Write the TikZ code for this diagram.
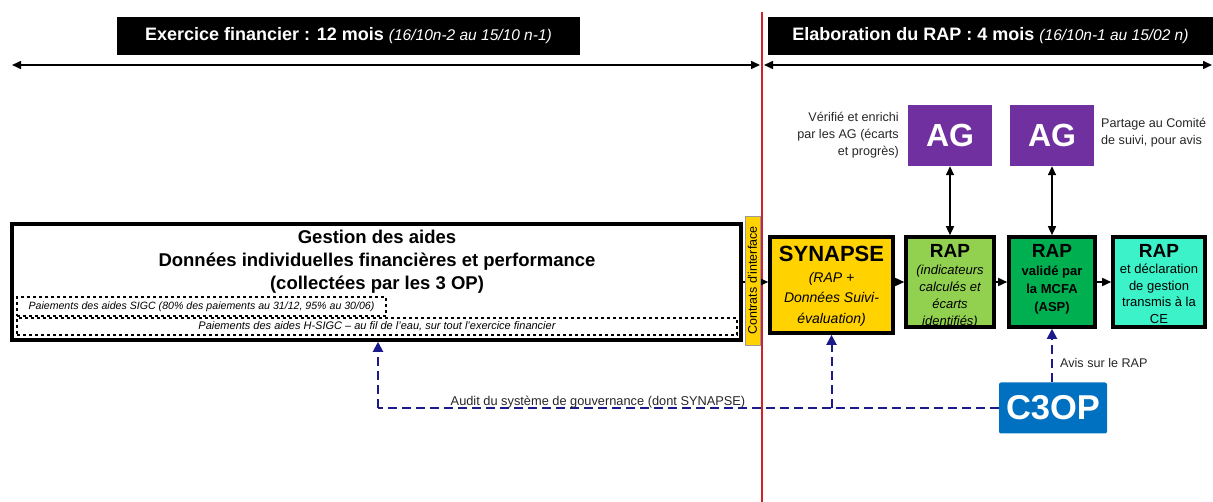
\documentclass[tikz,border=0pt]{standalone}
\usepackage{fontspec}
\setmainfont{Liberation Sans}
\usetikzlibrary{arrows.meta}
\definecolor{agpurple}{HTML}{7030A0}
\definecolor{cblue}{HTML}{0070C0}
\definecolor{lgreen}{HTML}{92D050}
\definecolor{dgreen}{HTML}{00B050}
\definecolor{aqua}{HTML}{3CF2C8}
\definecolor{syny}{HTML}{FFD200}
\definecolor{navyd}{HTML}{1A1A8C}
\definecolor{redl}{HTML}{D0202A}
\tikzset{
  titlebox/.style={fill=black, text=white, minimum height=38pt, inner sep=0pt, font=\fontsize{18}{20}\selectfont},
  flowbox/.style={draw=black, line width=3.6pt, inner sep=0pt},
  boxtext/.style={inner sep=0pt, align=center, anchor=north, font=\fontsize{13}{17.5}\selectfont},
  agbox/.style={fill=agpurple, text=white, minimum width=84pt, minimum height=61pt, inner sep=0pt, font=\fontsize{32}{34}\selectfont\bfseries},
  dashbox/.style={draw=black, dashed, line width=1.1pt, inner sep=0pt, font=\fontsize{10.6}{12}\selectfont\itshape},
  timearrow/.style={line width=1.5pt, {Triangle[length=9pt,width=8pt]}-{Triangle[length=9pt,width=8pt]}},
  flowarrow/.style={line width=1.5pt, -{Triangle[length=9pt,width=8pt]}},
  dblarrow/.style={line width=1.5pt, {Triangle[length=9pt,width=8pt]}-{Triangle[length=9pt,width=8pt]}},
  auditline/.style={navyd, line width=2pt, dash pattern=on 9pt off 5pt},
  auditarrow/.style={auditline, -{Triangle[length=10pt,width=10pt]}},
  smalltext/.style={inner sep=0pt, font=\fontsize{12.6}{17}\selectfont, text=black!85},
}
\begin{document}
\begin{tikzpicture}[x=1pt,y=-1pt]
\useasboundingbox (0,0) rectangle (1213,502);
% titles
\node[titlebox, minimum width=463pt] (t1) at (348.5,36) {\textbf{Exercice financier~: 12 mois} {\fontsize{15.5}{16}\selectfont\itshape (16/10n-2 au 15/10 n-1)}};
\node[titlebox, minimum width=445pt] (t2) at (990.5,36) {\textbf{Elaboration du RAP~: 4 mois} {\fontsize{15.5}{16}\selectfont\itshape (16/10n-1 au 15/02 n)}};
% red line
\coordinate (redtop) at (762,12);
\coordinate (redbot) at (762,502);
\draw[redl, line width=1.8pt] (redtop) -- (redbot);
% timeline
\coordinate (tl1) at (12,65);
\coordinate (tl2) at (760,65);
\coordinate (tr1) at (764,65);
\coordinate (tr2) at (1212,65);
\draw[timearrow] (tl1) -- (tl2);
\draw[timearrow] (tr1) -- (tr2);
% big box
\node[flowbox, minimum width=729pt, minimum height=116pt] (big) at (376.5,282) {};
\node[inner sep=0pt, align=center, anchor=north, font=\fontsize{18.5}{23}\selectfont\bfseries] (bigt) at (377,230) {Gestion des aides\\Données individuelles financières et performance\\(collectées par les 3 OP)};
\node[dashbox, minimum width=369pt, minimum height=19pt] (sigc) at (201.5,306.5) {Paiements des aides SIGC (80\% des paiements au 31/12, 95\% au 30/06)};
\node[dashbox, minimum width=720pt, minimum height=17pt, font=\fontsize{11}{12}\selectfont\itshape] (hsigc) at (377,326.5) {Paiements des aides H-SIGC – au fil de l’eau, sur tout l’exercice financier};
% SYNAPSE
\node[flowbox, fill=syny, minimum width=123pt, minimum height=96pt] (syn) at (831.5,285) {};
\node[boxtext, font=\fontsize{14}{20.5}\selectfont\itshape] (synt) at (831.5,246) {{\fontsize{22}{22}\selectfont\bfseries\upshape SYNAPSE}\\(RAP +\\Données Suivi-\\évaluation)};
% RAP boxes
\node[flowbox, fill=lgreen, minimum width=88pt, minimum height=90pt] (rap1) at (950,282) {};
\node[boxtext, font=\fontsize{13}{17}\selectfont\itshape] (rap1t) at (950,244) {{\fontsize{19}{21}\selectfont\bfseries\upshape RAP}\\(indicateurs\\calculés et\\écarts\\identifiés)};
\node[flowbox, fill=dgreen, minimum width=86pt, minimum height=90pt] (rap2) at (1052,282) {};
\node[boxtext, font=\fontsize{13}{18}\selectfont\bfseries] (rap2t) at (1052,244) {{\fontsize{19}{21}\selectfont RAP}\\validé par\\la MCFA\\(ASP)};
\node[flowbox, fill=aqua, minimum width=92pt, minimum height=90pt] (rap3) at (1159,282) {};
\node[boxtext, font=\fontsize{13}{16.5}\selectfont] (rap3t) at (1159,244) {{\fontsize{19}{21}\selectfont\bfseries RAP}\\et déclaration\\de gestion\\transmis à la\\CE};
% arrows between boxes
\draw[flowarrow] (big.east |- rap1.west) -- (syn.west |- rap1.west);
\draw[flowarrow] (syn.east |- rap1.west) -- (rap1.west);
\draw[flowarrow] (rap1.east) -- (rap2.west);
\draw[flowarrow] (rap2.east) -- (rap3.west);
% interface bar
\node[draw=black!40, line width=0.4pt, fill=syny, rotate=90, minimum width=129pt, minimum height=15pt, inner sep=0pt, font=\fontsize{12.5}{13}\selectfont] (bar) at (752.5,280.5) {Contrats d’interface};
% AG
\node[agbox] (ag1) at (950,135.5) {AG};
\node[agbox] (ag2) at (1052,135.5) {AG};
\draw[dblarrow] (ag1.south) -- (rap1.north);
\draw[dblarrow] (ag2.south) -- (rap2.north);
\node[smalltext, align=right, anchor=east] (agl) at (899,135) {Vérifié et enrichi\\par les AG (écarts\\et progrès)};
\node[smalltext, align=left, anchor=west] (agr) at (1101,133) {Partage au Comité\\de suivi, pour avis};
% C3OP
\node[fill=cblue, text=white, rounded corners=2pt, minimum width=108pt, minimum height=51pt, inner sep=0pt, font=\fontsize{34.5}{36}\selectfont\bfseries] (c3op) at (1053,408) {C3OP};
\draw[auditarrow] (c3op.north -| rap2.south) -- (rap2.south);
\node[smalltext, anchor=west] (avis) at (1060,363) {Avis sur le RAP};
\coordinate (auditL) at (378,408);
\coordinate (auditS) at (831.5,408);
\draw[auditline] (c3op.west) -- (auditL);
\draw[auditarrow] (auditL) -- (auditL |- big.south);
\draw[auditarrow] (auditS) -- (syn.south);
\node[smalltext, font=\fontsize{12.8}{14}\selectfont, anchor=south, inner sep=1pt] (auditt) at (598,409) {Audit du système de gouvernance (dont SYNAPSE)};
\end{tikzpicture}
\end{document}
